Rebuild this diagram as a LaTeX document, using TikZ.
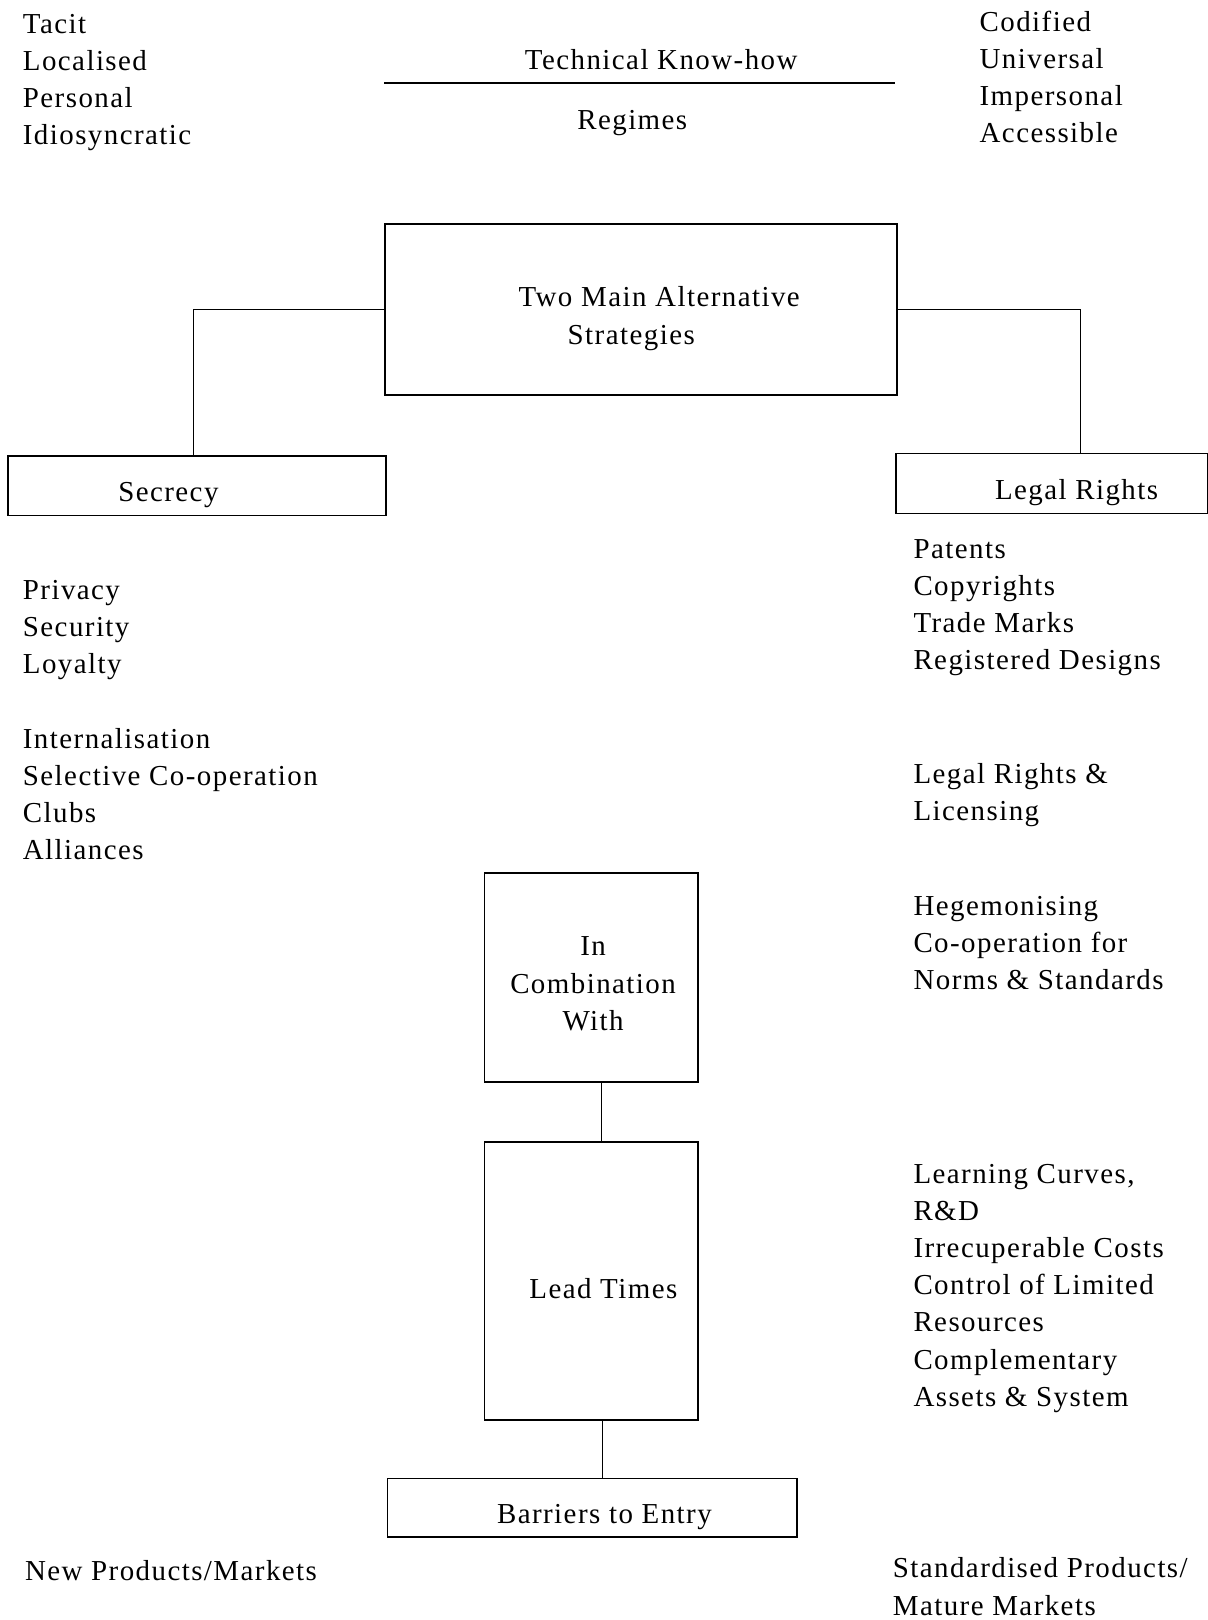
\documentclass[tikz,border=0pt]{standalone}
\usepackage{fontspec}
\setmainfont{Liberation Serif}[LetterSpace=5]
\begin{document}
\begin{tikzpicture}[x=1pt,y=-1pt,
  txt/.style={inner sep=0pt, font=\fontsize{28}{36}\selectfont, align=left, anchor=north west},
  ctxt/.style={inner sep=0pt, font=\fontsize{28}{36}\selectfont, anchor=base},
  box/.style={draw, line width=1.8pt, inner sep=0pt},
  conn/.style={line width=1.3pt}]
\fill[white] (0,0) rectangle (1169,1568);
\useasboundingbox (0,0) rectangle (1169,1568);

% top
\node[txt] (tacit) at (22,6.8) {\strut Tacit\\Localised\\Personal\\Idiosyncratic};
\node[txt] (codified) at (948,4.8) {\strut Codified\\Universal\\Impersonal\\Accessible};
\node[ctxt] (tk) at (640,67) {Technical Know-how};
\node[ctxt] (reg) at (612,125) {Regimes};
\coordinate (ka) at (372,80);
\coordinate (kb) at (866,80);
\draw[line width=1.8pt] (ka) -- (kb);

% boxes
\node[box, minimum width=495pt, minimum height=165pt] (main) at (620.5,299.5) {};
\node[ctxt] (main1) at (638,297) {Two Main Alternative};
\node[ctxt] (main2) at (611,333) {Strategies};

\node[box, minimum width=366pt, minimum height=58pt] (secrecy) at (191,470) {};
\node[ctxt] (sectxt) at (163,485) {Secrecy};

\node[box, minimum width=302pt, minimum height=58pt] (legal) at (1018,468) {};
\node[ctxt] (legtxt) at (1042,483) {Legal Rights};

\draw[conn] (main.west) -| ([xshift=-4pt]secrecy.north);
\draw[conn] (main.east) -| ([xshift=28pt]legal.north);

% left lists
\node[txt] (privacy) at (22,554.8) {\strut Privacy\\Security\\Loyalty};
\node[txt] (intern) at (22,698.8) {\strut Internalisation\\Selective Co-operation\\Clubs\\Alliances};

% right lists
\node[txt] (patents) at (884,514.8) {\strut Patents\\Copyrights\\Trade Marks\\Registered Designs};
\node[txt] (licens) at (884,732.8) {\strut Legal Rights \&\\Licensing};
\node[txt] (hegem) at (884,860.8) {\strut Hegemonising\\Co-operation for\\Norms \& Standards};
\node[txt] (learn) at (884,1119.8) {\strut Learning Curves,\\R\&D\\Irrecuperable Costs\\Control of Limited\\Resources\\Complementary\\Assets \& System};

% central column
\node[box, minimum width=207pt, minimum height=202pt] (comb) at (572.5,946) {};
\node[inner sep=0pt, font=\fontsize{28}{36}\selectfont, align=center, anchor=north] (combtxt) at (574,899.8) {\strut In\\Combination\\With};

\node[box, minimum width=207pt, minimum height=269pt] (lead) at (572.5,1239.5) {};
\node[ctxt] (leadtxt) at (584,1257) {Lead Times};

\node[box, minimum width=396pt, minimum height=57pt] (barriers) at (573,1459.5) {};
\node[ctxt] (bartxt) at (585,1475) {Barriers to Entry};

\draw[conn] ([xshift=10pt]comb.south) -- ([xshift=10pt]lead.north);
\draw[conn] ([xshift=10.5pt]lead.south) -- ([xshift=10.5pt]lead.south |- barriers.north);

% bottom
\node[txt] (newprod) at (24,1504.8) {\strut New Products/Markets};
\node[txt] (stdprod) at (864,1501.8) {\strut Standardised Products/\\Mature Markets};
\end{tikzpicture}
\end{document}
